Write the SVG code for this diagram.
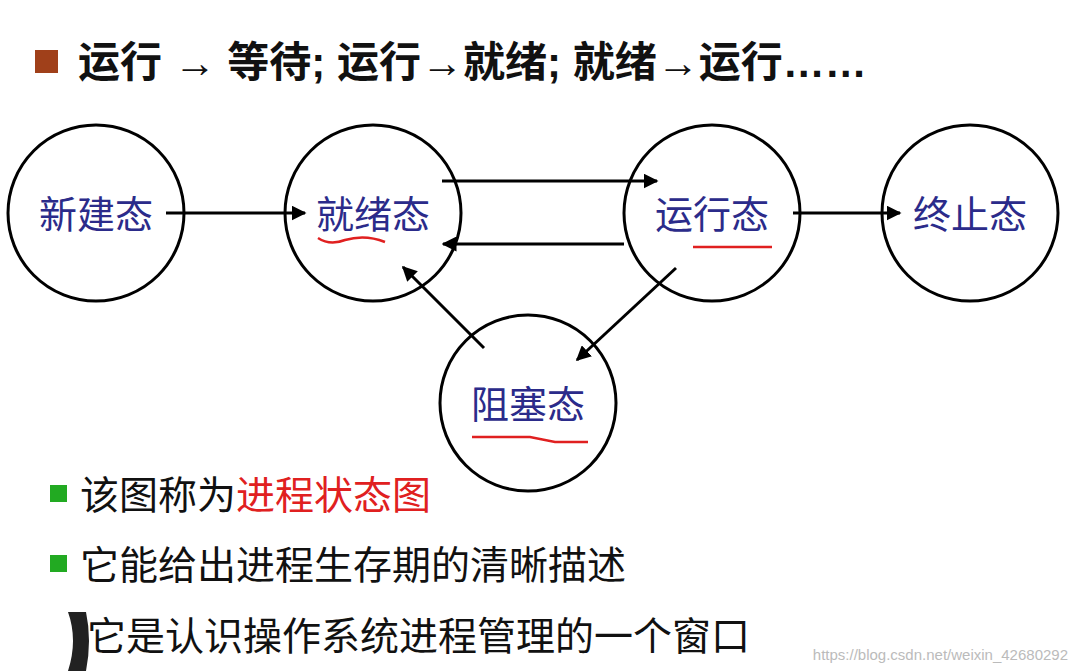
<svg xmlns="http://www.w3.org/2000/svg" width="1078" height="671" viewBox="0 0 1078 671">
<style>
.n{fill:#fff;stroke:#000;stroke-width:3}
.l{font-family:"Liberation Serif","Noto Sans CJK SC",serif;font-size:38px;fill:#2b2b8a;text-anchor:middle}
.t{font-family:"Liberation Sans","Noto Sans CJK SC",sans-serif;font-size:39px;fill:#111}
.c line{stroke:#000;stroke-width:3;marker-end:url(#a)}
.u{fill:none;stroke:#e02020;stroke-width:2.5}
</style>
<defs><marker id="a" viewBox="0 0 10 10" refX="9" refY="5" markerWidth="5" markerHeight="5" orient="auto"><path d="M0,0L10,5L0,10z" fill="#000"/></marker></defs>
<rect width="1078" height="671" fill="#fff"/>
<rect x="35" y="50" width="23" height="23" fill="#a0401a"/>
<text x="78" y="77" class="t" style="font-size:42px;font-weight:bold">运行 → 等待; 运行→就绪; 就绪→运行……</text>
<g id="n1"><circle class="n" cx="96" cy="213" r="88"/><text class="l" x="96" y="228">新建态</text></g>
<g id="n2"><circle class="n" cx="373" cy="213" r="88"/><text class="l" x="373" y="228">就绪态</text><path class="u" d="M318,238 Q330,246 345,240 Q365,234 385,242"/></g>
<g id="n3"><circle class="n" cx="712" cy="213" r="88"/><text class="l" x="712" y="228">运行态</text><path class="u" d="M693,247 L772,247"/></g>
<g id="n4"><circle class="n" cx="970" cy="213" r="88"/><text class="l" x="970" y="228">终止态</text></g>
<g id="n5"><circle class="n" cx="528" cy="403" r="88"/><text class="l" x="528" y="418">阻塞态</text><path class="u" d="M472,437 L530,437 L555,442 L588,442"/></g>
<g class="c">
<line x1="166" y1="213" x2="305" y2="213"/>
<line x1="442" y1="181" x2="657" y2="181"/>
<line x1="624" y1="244" x2="443" y2="244"/>
<line x1="793" y1="213" x2="900" y2="213"/>
<line x1="484" y1="348" x2="403" y2="267"/>
<line x1="676" y1="268" x2="577" y2="360"/>
</g>
<rect x="50" y="485" width="17" height="17" fill="#22aa22"/>
<text x="80" y="509" class="t">该图称为<tspan fill="#e02020">进程状态图</tspan></text>
<rect x="50" y="555" width="17" height="17" fill="#22aa22"/>
<text x="80" y="579" class="t">它能给出进程生存期的清晰描述</text>
<text x="87" y="650" class="t">它是认识操作系统进程管理的一个窗口</text>
<path d="M68,612 L86,612 Q92,640 86,671 L68,671 Q78,640 68,612z" fill="#222"/>
<text x="1068" y="660" text-anchor="end" font-family="Liberation Sans,sans-serif" font-size="15" fill="#bbb">https://blog.csdn.net/weixin_42680292</text>
</svg>
